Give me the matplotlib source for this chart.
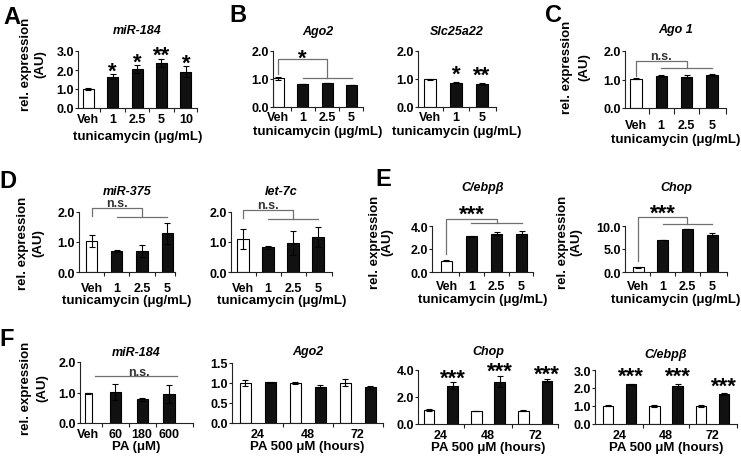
import matplotlib
matplotlib.use('Agg')
import matplotlib.pyplot as plt
import numpy as np

plt.rcParams['font.family'] = ['Liberation Sans', 'DejaVu Sans']
plt.rcParams['font.weight'] = 'bold'

W, H = 741, 460
fig = plt.figure(figsize=(W / 100, H / 100), dpi=100)

# ---------------- data ----------------
tun4 = ['Veh', '1', '2.5', '5']
tun5 = ['Veh', '1', '2.5', '5', '10']
tun3 = ['Veh', '1', '5']
pa_doses = ['Veh', '60', '180', '600']
hours = ['24', '48', '72']

# A miR-184
a_vals = [1.0, 1.65, 2.05, 2.37, 1.91]
a_err = [0.05, 0.12, 0.22, 0.23, 0.3]
a_sig = ['', '*', '*', '**', '*']
# B Ago2 / Slc25a22
b1_vals = [1.02, 0.82, 0.85, 0.78]
b1_err = [0.06, 0.01, 0.01, 0.01]
b2_vals = [0.99, 0.87, 0.82]
b2_err = [0.02, 0.02, 0.02]
b2_sig = ['', '*', '**']
# C Ago 1
c_vals = [1.03, 1.12, 1.1, 1.17]
c_err = [0.02, 0.04, 0.06, 0.03]
# D miR-375 / let-7c
d1_vals = [1.05, 0.69, 0.71, 1.29]
d1_err = [0.2, 0.03, 0.2, 0.36]
d2_vals = [1.1, 0.82, 0.96, 1.17]
d2_err = [0.32, 0.04, 0.4, 0.32]
# E C/ebpb / Chop
e1_vals = [1.0, 3.1, 3.33, 3.33]
e1_err = [0.02, 0.04, 0.15, 0.25]
e2_vals = [1.0, 7.0, 9.3, 8.1]
e2_err = [0.15, 0.05, 0.05, 0.4]
# F
f1_vals = [0.98, 1.02, 0.78, 0.95]
f1_err = [0.02, 0.25, 0.05, 0.28]
f2_vals = [1.0, 1.02, 1.0, 0.91, 1.01, 0.89]
f2_err = [0.08, 0.01, 0.02, 0.03, 0.08, 0.04]
f3_vals = [1.04, 2.82, 0.99, 3.13, 1.0, 3.21]
f3_err = [0.05, 0.26, 0.01, 0.42, 0.01, 0.12]
f4_vals = [1.02, 2.22, 1.0, 2.09, 1.0, 1.67]
f4_err = [0.03, 0.03, 0.04, 0.16, 0.04, 0.05]
f_sig = ['', '***', '', '***', '', '***']

veh_first4 = [0, 1, 1, 1]
veh_first5 = [0, 1, 1, 1, 1]
veh_first3 = [0, 1, 1]
paired = [0, 1, 0, 1, 0, 1]

SPINE = '#222222'
GRAY = '#707070'
TUN = 'tunicamycin (\u03bcg/mL)'
PAH = 'PA 500 \u03bcM (hours)'
STAR = 16


def pt(p):
    return p * 0.72


def make_axes(box):
    x0, x1, yb, yt = box
    return fig.add_axes([x0 / W, 1 - yb / H, (x1 - x0) / W, (yb - yt) / H])


def bar_panel(box, vals, errs, fills, xlim, ylim, yticks, labels, label_pos, bounds,
              title, title_dy, tick_dy, xlab, xlab_dy, width=0.45, xtick_len=4):
    ax = make_axes(box)
    x = np.arange(len(vals))
    cols = ['white' if f == 0 else '#111111' for f in fills]
    ax.bar(x, vals, width=width, color=cols, edgecolor='black', linewidth=0.8,
           yerr=errs, error_kw=dict(ecolor='black', elinewidth=0.8, capsize=2, capthick=0.8))
    ax.set_xlim(xlim)
    ax.set_ylim(ylim)
    for s in ['top', 'right']:
        ax.spines[s].set_visible(False)
    for s in ['left', 'bottom']:
        ax.spines[s].set_color(SPINE)
        ax.spines[s].set_linewidth(0.8)
    ax.set_yticks(yticks)
    ax.set_yticklabels(['%.1f' % t for t in yticks])
    ax.tick_params(axis='y', length=pt(3), width=0.8, pad=pt(1), labelsize=9, color=SPINE)
    ax.set_xticks(label_pos)
    ax.set_xticklabels(labels)
    ax.set_xticks(bounds, minor=True)
    ax.tick_params(axis='x', which='major', length=0, pad=pt(tick_dy - 4.6), labelsize=9)
    ax.tick_params(axis='x', which='minor', length=pt(xtick_len), width=0.8, color=SPINE)
    ax.annotate(title, (0.5, 1), xycoords='axes fraction', xytext=(0, pt(title_dy)),
                textcoords='offset points', ha='center', va='center', fontsize=9,
                fontstyle='italic', annotation_clip=False)
    ax.annotate(xlab, (0.5, 0), xycoords='axes fraction', xytext=(0, -pt(xlab_dy)),
                textcoords='offset points', ha='center', va='center', fontsize=9.5,
                annotation_clip=False)
    return ax


def stars(ax, vals, errs, sigs, dy, size=STAR):
    # dy: pixels from the error-bar cap up to the middle of the asterisks
    for i, (v, e, s) in enumerate(zip(vals, errs, sigs)):
        if s:
            ax.annotate(s, (i, v + e), xytext=(0, pt(dy + 3 - 0.58 * size / 0.72)),
                        textcoords='offset points', ha='center', va='baseline',
                        fontsize=size, annotation_clip=False)


def bracket(ax, y_start, y_top, y_low, label, dy, x_left=0, x_right=2, low=(1, 3), size=STAR):
    ax.plot([x_left, x_left, x_right, x_right], [y_start, y_top, y_top, y_low],
            color=GRAY, lw=0.9, clip_on=False)
    ax.plot(list(low), [y_low, y_low], color=GRAY, lw=0.9, clip_on=False)
    xm = (x_left + x_right) / 2
    if label == 'n.s.':
        ax.annotate(label, (xm, y_top), xytext=(0, pt(1.5)), textcoords='offset points',
                    ha='center', va='baseline', fontsize=9, color='#333333',
                    annotation_clip=False)
    else:
        ax.annotate(label, (xm, y_top), xytext=(0, pt(dy + 2 - 0.58 * size / 0.72)),
                    textcoords='offset points', ha='center', va='baseline',
                    fontsize=size, annotation_clip=False)


def ftext(x, y, s, **kw):
    fig.text(x / W, 1 - y / H, s, **kw)


def ylab(x1, x2, y):
    ftext(x1, y, 'rel. expression', rotation=90, ha='center', va='center', fontsize=9.5)
    ftext(x2, y, '(AU)', rotation=90, ha='center', va='center', fontsize=9.5)


# ---------------- A ----------------
ax = bar_panel((78, 197, 109, 52), a_vals, a_err, veh_first5, (-0.41, 4.45), (0, 3),
               [0, 1, 2, 3], tun5, range(5), [0.5, 1.5, 2.5, 3.5, 4.45],
               'miR-184', 21, 10, TUN, 28)
stars(ax, a_vals, a_err, a_sig, 7.5)

# ---------------- B ----------------
ax = bar_panel((273, 363, 108, 52), b1_vals, b1_err, veh_first4, (-0.22, 3.47), (0, 2),
               [0, 1, 2], tun4, range(4), [0.5, 1.5, 2.5, 3.47],
               'Ago2', 20, 9, TUN, 24)
bracket(ax, 1.18, 1.71, 1.05, '*', 6)

ax = bar_panel((418, 496, 108, 52), b2_vals, b2_err, veh_first3, (-0.47, 2.55), (0, 2),
               [0, 1, 2], tun3, range(3), [0.5, 1.5, 2.55],
               'Slc25a22', 20, 9, TUN, 24)
stars(ax, b2_vals, b2_err, b2_sig, 12.5)

# ---------------- C ----------------
ax = bar_panel((625, 726, 109, 52), c_vals, c_err, veh_first4, (-0.43, 3.56), (0, 2),
               [0, 1, 2], tun4, range(4), [0.5, 1.5, 2.5, 3.56],
               'Ago 1', 22, 16, TUN, 31, xtick_len=6)
bracket(ax, 1.11, 1.66, 1.39, 'n.s.', 0)

# ---------------- D ----------------
ax = bar_panel((79, 175, 273, 213), d1_vals, d1_err, veh_first4, (-0.5, 3.31), (0, 2),
               [0, 1, 2], tun4, range(4), [0.5, 1.5, 2.5, 3.31],
               'miR-375', 21, 15, TUN, 28)
bracket(ax, 1.86, 2.15, 1.82, 'n.s.', 0)

ax = bar_panel((231, 332, 273, 213), d2_vals, d2_err, veh_first4, (-0.48, 3.56), (0, 2),
               [0, 1, 2], tun4, range(4), [0.5, 1.5, 2.5, 3.56],
               'let-7c', 21, 15, TUN, 28)
bracket(ax, 1.79, 2.08, 1.76, 'n.s.', 0)

# ---------------- E ----------------
ax = bar_panel((432, 533, 273, 227), e1_vals, e1_err, veh_first4, (-0.58, 3.46), (0, 4),
               [0, 2, 4], tun4, range(4), [0.5, 1.5, 2.5, 3.46],
               'C/ebp\u03b2', 39, 13, TUN, 27)
bracket(ax, 1.6, 4.6, 4.25, '***', 10)

ax = bar_panel((625, 727, 273, 227), e2_vals, e2_err, veh_first4, (-0.53, 3.6), (0, 10),
               [0, 5, 10], tun4, range(4), [0.5, 1.5, 2.5, 3.6],
               'Chop', 39, 13, TUN, 27)
bracket(ax, 2.5, 12.0, 10.5, '***', 9)

# ---------------- F ----------------
ax = bar_panel((80, 193, 424, 363), f1_vals, f1_err, veh_first4, (-0.3, 3.89), (0, 2),
               [0, 1, 2], pa_doses, range(4), [0.5, 1.5, 2.5, 3.89],
               'miR-184', 10, 10, 'PA (\u03bcM)', 23, width=[0.26, 0.41, 0.41, 0.41])
ax.plot([0.25, 3.3], [1.53, 1.53], color=GRAY, lw=0.9, clip_on=False)
ax.annotate('n.s.', (1.9, 1.53), xytext=(0, pt(1.0)), textcoords='offset points',
            ha='center', va='baseline', fontsize=9, color='#333333')

ax = bar_panel((232, 383, 424, 364), f2_vals, f2_err, paired, (-0.54, 5.51), (0, 1.5),
               [0, 0.5, 1.0, 1.5], hours, [0.5, 2.5, 4.5], [1.5, 3.5, 5.51],
               'Ago2', 12, 10, PAH, 23, width=0.42)

ax = bar_panel((418, 558, 425, 371), f3_vals, f3_err, paired, (-0.47, 5.47), (0, 4),
               [0, 2, 4], hours, [0.5, 2.5, 4.5], [1.5, 3.5, 5.47],
               'Chop', 19, 10, PAH, 23)
stars(ax, f3_vals, f3_err, f_sig, 9)

ax = bar_panel((595, 737, 425, 371), f4_vals, f4_err, paired, (-0.55, 5.55), (0, 3),
               [0, 1, 2, 3], hours, [0.5, 2.5, 4.5], [1.5, 3.5, 5.55],
               'C/ebp\u03b2', 16, 10, PAH, 23)
stars(ax, f4_vals, f4_err, f_sig, 11.5)

# ---------------- y labels & panel letters ----------------
ylab(26, 40.5, 64)
ylab(567, 584, 67)
ylab(23, 38, 243)
ylab(375, 387.5, 242)
ylab(563, 576, 242)
ylab(26, 42, 388)

for letter, x, y in [('A', 12, 17), ('B', 238, 16), ('C', 553, 15),
                     ('D', 7.5, 181), ('E', 383, 180), ('F', 6.7, 340)]:
    ftext(x, y, letter, ha='center', va='center', fontsize=17)

fig.savefig('out.png', dpi=100)
